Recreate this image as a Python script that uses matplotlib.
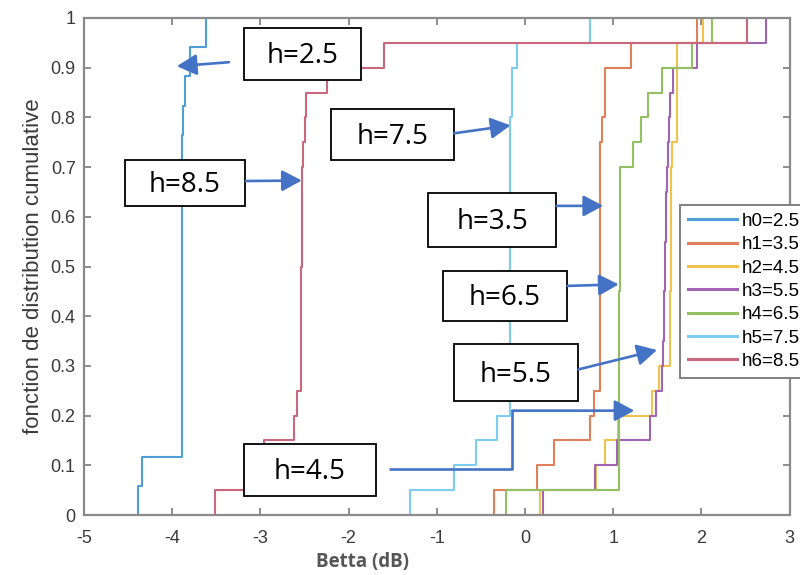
import numpy as np
import matplotlib
matplotlib.use("Agg")
import matplotlib.pyplot as plt
from matplotlib.patches import Rectangle, FancyArrowPatch

# ---------------- data (sample values read from the empirical CDFs) -------------
labels = ["h0=2.5", "h1=3.5", "h2=4.5", "h3=5.5", "h4=6.5", "h5=7.5", "h6=8.5"]

h0 = [-4.39, -4.34, -3.894, -3.894, -3.894, -3.894, -3.894, -3.894, -3.894,
      -3.894, -3.894, -3.894, -3.89, -3.88, -3.86, -3.80, -3.62]
h1 = [-0.355, 0.14, 0.33, 0.735, 0.78, 0.855, 0.855, 0.855, 0.855, 0.855,
      0.855, 0.855, 0.855, 0.855, 0.855, 0.873, 0.91, 0.91, 1.206, 1.95]
h2 = [0.17, 0.81, 0.91, 1.05, 1.44, 1.52, 1.64, 1.64, 1.645, 1.65,
      1.65, 1.655, 1.66, 1.66, 1.665, 1.72, 1.72, 1.72, 1.72, 2.02]
h3 = [0.20, 0.79, 1.04, 1.42, 1.48, 1.55, 1.57, 1.58, 1.58, 1.585,
      1.59, 1.595, 1.60, 1.61, 1.62, 1.63, 1.64, 1.68, 1.95, 2.73]
h4 = [-0.22, 1.07, 1.07, 1.07, 1.07, 1.07, 1.07, 1.07, 1.07, 1.075,
      1.075, 1.075, 1.075, 1.075, 1.23, 1.31, 1.39, 1.554, 1.894, 2.12]
h5 = [-1.30, -0.81, -0.55, -0.315, -0.165, -0.165, -0.165, -0.165, -0.165, -0.165,
      -0.165, -0.165, -0.165, -0.165, -0.165, -0.165, -0.145, -0.145, -0.096, 0.74]
h6 = [-3.52, -2.96, -2.96, -2.62, -2.58, -2.545, -2.54, -2.54, -2.535, -2.535,
      -2.53, -2.53, -2.525, -2.525, -2.52, -2.50, -2.48, -2.24, -1.60, 2.52]
series = [h0, h1, h2, h3, h4, h5, h6]

colors = ["#4f9fd6", "#e0805a", "#f2c24e", "#a164b0", "#93c062", "#7ccdf0", "#c9687c"]

x_ticks = [-5, -4, -3, -2, -1, 0, 1, 2, 3]
y_ticks = [0, 0.1, 0.2, 0.3, 0.4, 0.5, 0.6, 0.7, 0.8, 0.9, 1]
y_tick_labels = ["0", "0.1", "0.2", "0.3", "0.4", "0.5", "0.6", "0.7", "0.8", "0.9", "1"]

# annotation boxes: text, (x0, x1, y0, y1) in data units
boxes = [
    ("h=2.5", (-3.188, -1.863, 0.875, 0.980)),
    ("h=7.5", (-2.203, -0.810, 0.714, 0.817)),
    ("h=8.5", (-4.536, -3.177, 0.622, 0.714)),
    ("h=3.5", (-1.104, 0.357, 0.539, 0.648)),
    ("h=6.5", (-0.934, 0.481, 0.390, 0.491)),
    ("h=5.5", (-0.810, 0.606, 0.229, 0.344)),
    ("h=4.5", (-3.188, -1.693, 0.038, 0.143)),
]
# straight arrows: tail -> tip (data units)
arrows = [
    ((-3.358, 0.911), (-3.947, 0.903)),
    ((-0.804, 0.768), (-0.164, 0.784)),
    ((-3.165, 0.672), (-2.531, 0.673)),
    ((0.357, 0.622), (0.886, 0.622)),
    ((0.481, 0.461), (1.062, 0.464)),
    ((0.606, 0.293), (1.497, 0.332)),
]
# elbow arrow for h=4.5
elbow_x = [-1.546, -0.145, -0.145]
elbow_y = [0.0926, 0.0926, 0.210]
elbow_tip = (1.24, 0.210)

# ---------------- figure --------------------------------------------------------
fig = plt.figure(figsize=(8, 5.75), dpi=100)
ax = fig.add_axes([0.105, 0.1043, 0.882, 0.8644])

for s, c, lab in zip(series, colors, labels):
    s = np.sort(np.asarray(s, dtype=float))
    n = len(s)
    xs = np.r_[s[0], s]
    ys = np.r_[0.0, np.arange(1, n + 1) / n]
    ax.step(xs, ys, where="post", color=c, lw=1.5, label=lab)

ax.set_xlim(-5, 3)
ax.set_ylim(0, 1)
ax.set_xticks(x_ticks)
ax.set_xticklabels([str(t) for t in x_ticks])
ax.set_yticks(y_ticks)
ax.set_yticklabels(y_tick_labels)

for lbl in ax.get_xticklabels() + ax.get_yticklabels():
    lbl.set_fontfamily("Liberation Sans")
    lbl.set_fontsize(13)
    lbl.set_color("#3a3a3a")
ax.tick_params(axis="x", pad=11)
ax.tick_params(axis="y", pad=6)
ax.tick_params(direction="in", length=5, width=1.2, color="#7a7a7a",
               top=True, right=True)
for sp in ax.spines.values():
    sp.set_color("#8a8a8a")
    sp.set_linewidth(1.6)

ax.set_ylabel("fonction de distribution cumulative", fontfamily="Liberation Sans",
              fontsize=16, color="#3a3a3a", labelpad=5)
fig.text(362 / 800, 1 - 562 / 575, "Betta (dB)", ha="center", va="center",
         fontfamily="Open Sans", fontweight="bold", fontsize=13.5, color="#555555")

leg = ax.legend(loc="upper left", bbox_to_anchor=(680 / 800, 1 - 205 / 575),
                bbox_transform=fig.transFigure, prop=dict(family="Liberation Sans", size=13.5),
                handlelength=2.6, handletextpad=0.25, labelspacing=0.33, borderpad=0.42,
                fancybox=False, framealpha=1, borderaxespad=0)
leg.get_frame().set_edgecolor("#808080")
leg.get_frame().set_linewidth(1.4)
for line in leg.get_lines():
    line.set_linewidth(2.2)

arrow_color = "#4472C4"
for txt, (x0, x1, y0, y1) in boxes:
    ax.add_patch(Rectangle((x0, y0), x1 - x0, y1 - y0, facecolor="white",
                           edgecolor="black", lw=1.3, zorder=5))
    ax.text((x0 + x1) / 2, (y0 + y1) / 2 - 0.004, txt, ha="center", va="center",
            fontfamily="Open Sans", fontsize=20, color="black", zorder=6)

for (tail, tip) in arrows:
    ax.add_patch(FancyArrowPatch(tail, tip, arrowstyle="-|>,head_length=0.6,head_width=0.32",
                                 mutation_scale=20, color=arrow_color, lw=1.9,
                                 shrinkA=0, shrinkB=0, zorder=7))
ax.plot(elbow_x, elbow_y, color=arrow_color, lw=1.9, zorder=7, solid_capstyle="butt")
ax.add_patch(FancyArrowPatch((elbow_x[-1], elbow_y[-1]), elbow_tip,
                             arrowstyle="-|>,head_length=0.6,head_width=0.32",
                             mutation_scale=20, color=arrow_color, lw=1.9,
                             shrinkA=0, shrinkB=0, zorder=7))

fig.savefig("out.png", dpi=100)
